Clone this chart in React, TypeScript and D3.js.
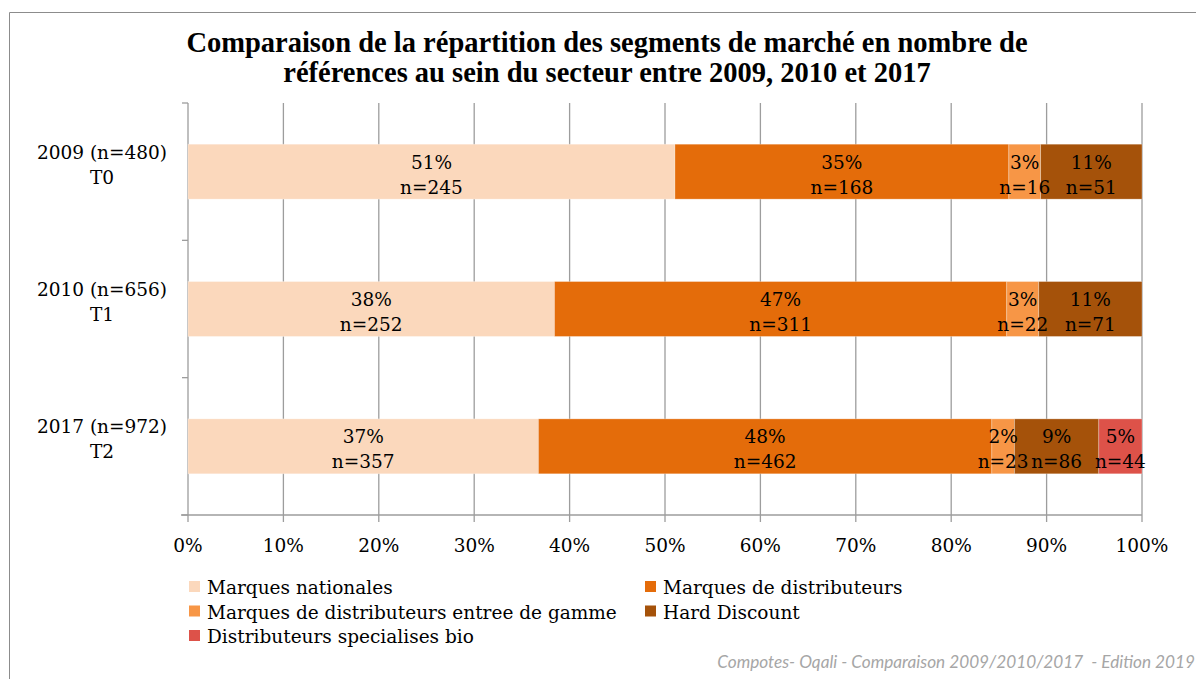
import React from 'react'
import * as d3 from 'd3'

const W = 1196
const H = 679

const yearLabels = ['2009 (n=480)', '2010 (n=656)', '2017 (n=972)']
const periodLabels = ['T0', 'T1', 'T2']

const seriesNames = [
  'Marques nationales',
  'Marques de distributeurs',
  'Marques de distributeurs entree de gamme',
  'Hard Discount',
  'Distributeurs specialises bio'
]
const seriesColors = ['#FBD8BC', '#E46C0A', '#F79646', '#A5520A', '#DD5249']

// counts
const marquesNationales = [245, 252, 357]
const marquesDistributeurs = [168, 311, 462]
const entreeDeGamme = [16, 22, 23]
const hardDiscount = [51, 71, 86]
const bio = [0, 0, 44]

const xTicks = [0, 0.1, 0.2, 0.3, 0.4, 0.5, 0.6, 0.7, 0.8, 0.9, 1]

const seriesValues = [marquesNationales, marquesDistributeurs, entreeDeGamme, hardDiscount, bio]

const rows = yearLabels.map((year, i) => {
  const row: Record<string, number | string> = { year }
  seriesNames.forEach((name, s) => { row[name] = seriesValues[s][i] })
  return row
})

const stack = d3.stack<Record<string, number | string>>()
  .keys(seriesNames)
  .value((d, key) => d[key] as number)
  .offset(d3.stackOffsetExpand)

const layers = stack(rows)

const left = 188
const right = 1142
const top = 103
const bottom = 515

const x = d3.scaleLinear().domain([0, 1]).range([left, right])
const y = d3.scaleBand<string>()
  .domain(yearLabels)
  .range([top, bottom])
  .paddingInner(0.6)
  .paddingOuter(0.3)

const bodyFont = '"DejaVu Serif", serif'
const fs = 18.5
const gridColor = '#9d9d9d'
const pct = d3.format('.0%')

const App: React.FC = () => {
  const step = y.step()
  const boundaries = d3.range(yearLabels.length + 1).map(i => top + i * step)

  return (
    <svg width={W} height={H} style={{ position: 'absolute', left: 0, top: 0, background: '#fff' }}>
      {/* outer frame */}
      <path d={`M9.5,${H} V12.5 H${W}`} fill="none" stroke="#8c8c8c" strokeWidth={1} />

      <text x={607} y={52} textAnchor="middle" fontFamily='"Liberation Serif", serif' fontWeight="bold" fontSize={28.5} fill="#000">
        Comparaison de la répartition des segments de marché en nombre de
      </text>
      <text x={607} y={82} textAnchor="middle" fontFamily='"Liberation Serif", serif' fontWeight="bold" fontSize={28.5} fill="#000">
        références au sein du secteur entre 2009, 2010 et 2017
      </text>

      {/* gridlines */}
      {xTicks.map(t => (
        <line key={'g' + t} x1={x(t)} x2={x(t)} y1={top} y2={bottom + 7} stroke={gridColor} strokeWidth={1.3} />
      ))}
      {/* axes */}
      <line x1={left - 7} x2={right} y1={bottom} y2={bottom} stroke={gridColor} strokeWidth={1.3} />
      {boundaries.map(b => (
        <line key={'b' + b} x1={left - 6} x2={left} y1={b} y2={b} stroke={gridColor} strokeWidth={1.3} />
      ))}

      {xTicks.map(t => (
        <text key={'t' + t} x={x(t)} y={552} textAnchor="middle" fontFamily={bodyFont} fontSize={fs} fill="#000">
          {pct(t)}
        </text>
      ))}

      {yearLabels.map((yr, i) => {
        const c = (y(yr) as number) + y.bandwidth() / 2
        return (
          <g key={yr} fontFamily={bodyFont} fontSize={fs} fill="#000" textAnchor="middle">
            <text x={102} y={c - 13}>{yr}</text>
            <text x={102} y={c + 12}>{periodLabels[i]}</text>
          </g>
        )
      })}

      {/* bars */}
      {layers.map((layer, s) => (
        <g key={layer.key} fill={seriesColors[s]}>
          {layer.map((seg, i) => {
            const v = seriesValues[s][i]
            if (!v) return null
            const x0 = x(seg[0])
            const x1 = x(seg[1])
            const by = y(yearLabels[i]) as number
            return (
              <rect key={i} x={x0} y={by} width={x1 - x0} height={y.bandwidth()}
                stroke="#fff" strokeOpacity={0.35} strokeWidth={0.8} />
            )
          })}
        </g>
      ))}

      {/* labels */}
      {layers.map((layer, s) => (
        <g key={'l' + layer.key} fontFamily={bodyFont} fontSize={fs} fill="#000" textAnchor="middle">
          {layer.map((seg, i) => {
            const v = seriesValues[s][i]
            if (!v) return null
            const cx = (x(seg[0]) + x(seg[1])) / 2
            const by = y(yearLabels[i]) as number
            return (
              <g key={i}>
                <text x={cx} y={by + 24.5}>{pct(seg[1] - seg[0])}</text>
                <text x={cx} y={by + 49.5}>{'n=' + v}</text>
              </g>
            )
          })}
        </g>
      ))}

      {/* legend */}
      {seriesNames.map((name, s) => {
        const col = s % 2
        const row = Math.floor(s / 2)
        const lx = col === 0 ? 189 : 645
        const ly = 594 + row * 24.5
        return (
          <g key={'leg' + name}>
            <rect x={lx} y={ly - 13} width={11} height={11} fill={seriesColors[s]} />
            <text x={lx + 18} y={ly} fontFamily={bodyFont} fontSize={fs} fill="#000">{name}</text>
          </g>
        )
      })}

      <text x={1195} y={668} textAnchor="end" fontFamily="Lato, sans-serif" fontStyle="italic" fontSize={17.2} fill="#a6a6a6">
        {'Compotes- Oqali - Comparaison 2009/2010/2017\u00a0 - Edition 2019'}
      </text>
    </svg>
  )
}

export default App
